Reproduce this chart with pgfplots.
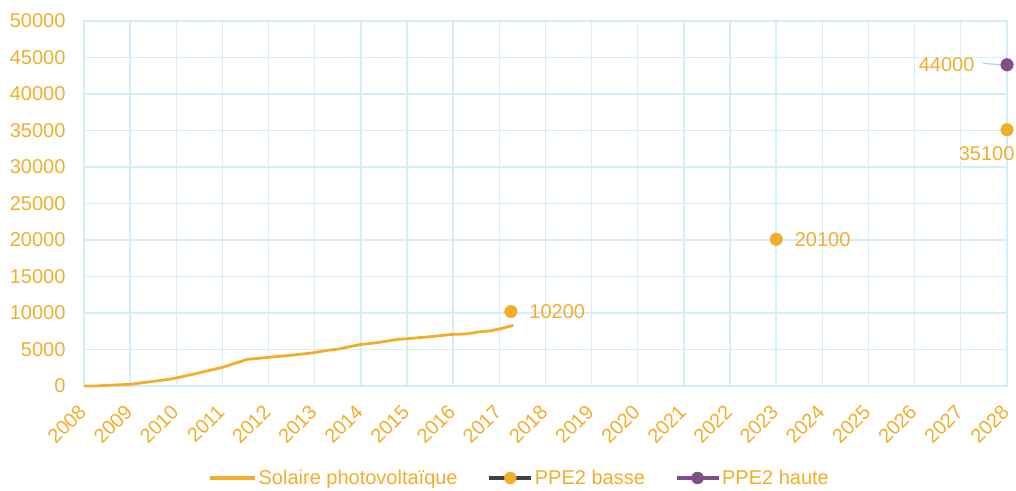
\documentclass[border=0pt]{standalone}
\usepackage{pgfplots}
\pgfplotsset{compat=1.18}
\usepackage{pgfplotstable}
\usepackage{fontspec}
\setmainfont{Liberation Sans}

\definecolor{solar}{HTML}{F2AE2A}
\definecolor{gridblue}{HTML}{D3EEF8}
\definecolor{leader}{HTML}{A6DAEF}
\definecolor{ppehaute}{HTML}{7F4F88}
\definecolor{ppedark}{HTML}{404040}

% Puissance photovoltaïque installée (MW)
\pgfplotstableread{
year mw
2008.00 0
2008.27 0
2008.50 90
2008.82 180
2009.00 230
2009.44 590
2009.83 910
2010.00 1100
2010.45 1735
2011.00 2560
2011.54 3650
2012.00 3930
2012.47 4200
2012.99 4570
2013.28 4890
2013.52 5070
2014.00 5700
2014.30 5890
2014.80 6390
2015.00 6480
2015.50 6760
2016.00 7080
2016.27 7120
2016.59 7440
2016.78 7530
2017.00 7810
2017.30 8300
}\solaire

\newcommand{\lblfont}{\fontsize{20}{24}\selectfont}

\begin{document}
\begin{tikzpicture}
\begin{axis}[
  scale only axis, width=923pt, height=365pt,
  xmin=2008, xmax=2028, ymin=0, ymax=50000,
  xtick={2008,2009,...,2028}, ytick={0,5000,...,50000},
  grid=major, major grid style={gridblue, line width=1.4pt},
  axis line style={gridblue, line width=1.4pt},
  major tick length=0pt,
  scaled y ticks=false, scaled x ticks=false,
  /pgf/number format/1000 sep={},
  /pgf/number format/assume math mode=true,
  ticklabel style={font=\lblfont, text=solar},
  yticklabel style={xshift=-15pt},
  xticklabel style={xshift=1pt, yshift=-20pt, rotate=45, anchor=east},
  clip=false,
  legend style={at={(0.472,-0.252)}, anchor=center, draw=none,
    font=\lblfont, text=solar,
    /tikz/every even column/.append style={column sep=28pt}},
  legend columns=3,
  legend cell align=left,
]
\addplot[solar, line width=2.8pt, line join=round,
  legend image code/.code={\draw[solar, line width=3.2pt] (0pt,0pt) -- (45pt,0pt);}]
  table[x=year, y=mw]{\solaire};
\addlegendentry{Solaire photovoltaïque}

\addplot[only marks, mark=*, mark size=6.3pt, color=solar,
  nodes near coords,
  nodes near coords style={anchor=west, xshift=15pt, font=\lblfont, text=solar},
  legend image code/.code={\draw[ppedark, line width=3.2pt] (0pt,0pt) -- (42pt,0pt);
    \fill[solar] (21pt,0pt) circle (6pt);}]
  coordinates {(2017.25,10200) (2023,20100)};
\addlegendentry{PPE2 basse}

\addplot[only marks, mark=*, mark size=6.3pt, color=ppehaute,
  nodes near coords,
  nodes near coords style={anchor=east, xshift=-29pt, font=\lblfont, text=solar},
  legend image code/.code={\draw[ppehaute, line width=3.2pt] (0pt,0pt) -- (42pt,0pt);
    \fill[ppehaute] (21pt,0pt) circle (6pt);}]
  coordinates {(2028,44000)};
\addlegendentry{PPE2 haute}

\addplot[forget plot, only marks, mark=*, mark size=6.3pt, color=solar,
  nodes near coords,
  nodes near coords style={anchor=north east, xshift=11pt, yshift=-13pt, font=\lblfont, text=solar}]
  coordinates {(2028,35100)};

% leader line from the 44000 label to its point
\draw[leader, line width=1.3pt] ([xshift=-24pt, yshift=1.5pt]axis cs:2028,44000) -- ([xshift=-6pt]axis cs:2028,44000);
\end{axis}
\pgfresetboundingbox
\useasboundingbox (-84pt,-104pt) rectangle (932pt,386pt);
\end{tikzpicture}
\end{document}
